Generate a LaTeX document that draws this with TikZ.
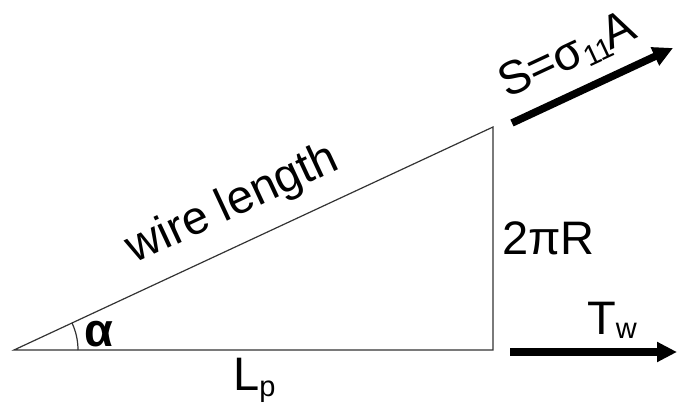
\documentclass[tikz,border=0pt]{standalone}
\usepackage{fontspec}
\setmainfont{Liberation Sans}
\usetikzlibrary{arrows.meta}
\newcommand{\bigf}{\fontsize{47}{56}\selectfont}
\newcommand{\subf}{\fontsize{29}{34}\selectfont}
\begin{document}
\begin{tikzpicture}[x=1pt,y=1pt,
  thinline/.style={draw=black!80,line width=1.2pt},
  force/.style={line width=7.5pt,-{Triangle[length=20pt,width=19pt]}},
  lbl/.style={inner sep=0pt,font=\bigf}]
\useasboundingbox (0,0) rectangle (677,407);
\coordinate (A) at (14,57);
\coordinate (B) at (493,57);
\coordinate (C) at (493,280);
\coordinate (s1) at (512,284);
\coordinate (s2) at (673,359);
\coordinate (t1) at (510,55);
\coordinate (t2) at (677,55);
\draw[thinline] (A) -- (B) -- (C) -- cycle;
\draw[thinline] (A) ++(64,0) arc[start angle=0,end angle=24.96,radius=64];
\draw[force] (s1) -- (s2);
\draw[force] (t1) -- (t2);
\node[lbl,anchor=base,rotate=24.96] (wl) at (238,191) {wire length};
\node[lbl,anchor=base west] (r) at (502,152) {2πR};
\node[lbl,anchor=base west] (lp) at (233,17) {L\raisebox{-6pt}{\subf p}};
\node[lbl,anchor=base west] (tw) at (587,72) {T\raisebox{-4pt}{\subf w}};
\node[lbl,anchor=base west] (al) at (84,60) {\bfseries α};
\node[lbl,anchor=base west,rotate=24.96] (sf) at (507,308) {S=σ\raisebox{-6pt}{\subf 11}\kern-4pt A};
\end{tikzpicture}
\end{document}
